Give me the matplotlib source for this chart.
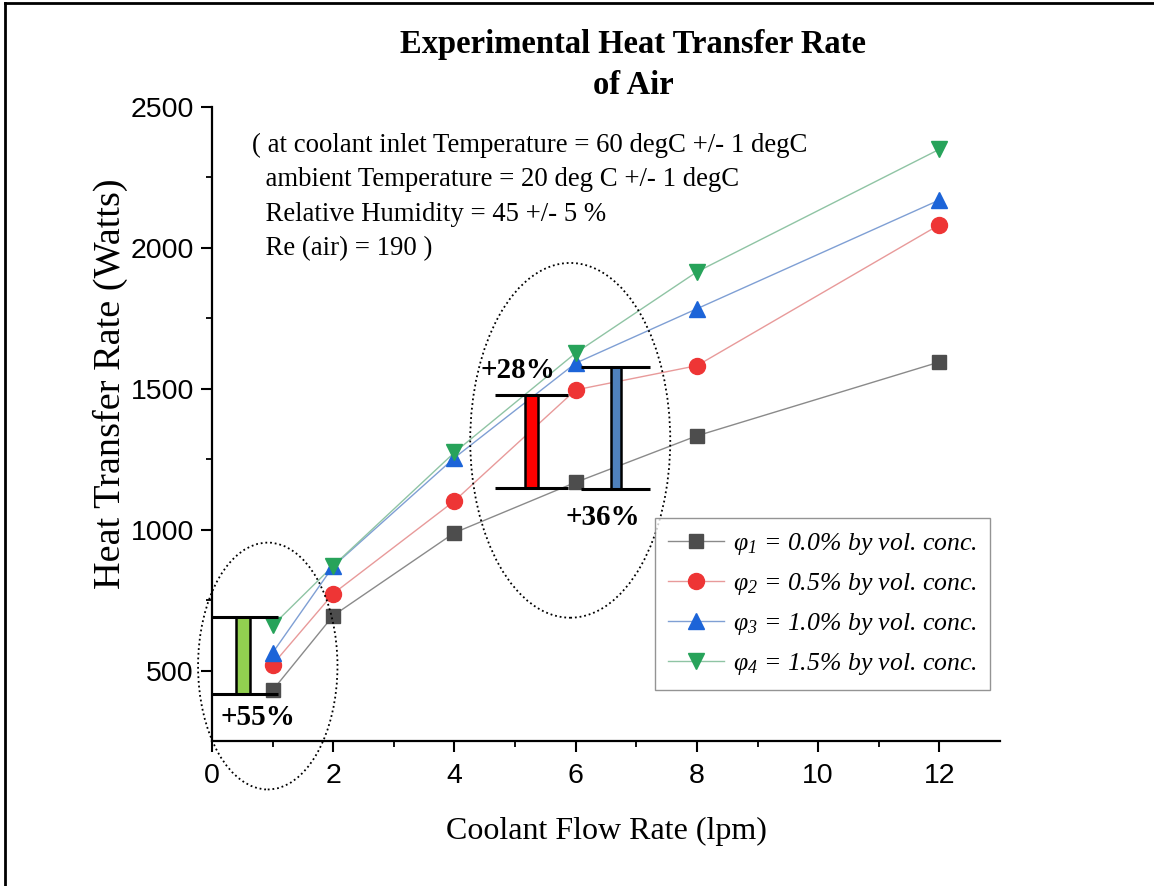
import matplotlib
matplotlib.use("Agg")
import matplotlib.pyplot as plt
from matplotlib.patches import Ellipse, Rectangle
from matplotlib.lines import Line2D

# ---- data -------------------------------------------------------------
flow_lpm = [1, 2, 4, 6, 8, 12]
q_phi1 = [430, 695, 989, 1168, 1333, 1595]
q_phi2 = [521, 773, 1102, 1496, 1582, 2082]
q_phi3 = [563, 870, 1255, 1591, 1784, 2170]
q_phi4 = [660, 872, 1274, 1627, 1915, 2350]

series_labels = [
    r"$\varphi_{\mathit{1}}$ = 0.0% by vol. conc.",
    r"$\varphi_{\mathit{2}}$ = 0.5% by vol. conc.",
    r"$\varphi_{\mathit{3}}$ = 1.0% by vol. conc.",
    r"$\varphi_{\mathit{4}}$ = 1.5% by vol. conc.",
]

# enhancement brackets: (label, bar centre x, bar width, low, high, line x0, line x1, colour)
brackets = [
    ("+55%", 0.515, 0.23, 417, 690, -0.02, 1.09, "#92d050"),
    ("+28%", 5.27, 0.20, 1148, 1479, 4.67, 5.87, "#ff0000"),
    ("+36%", 6.665, 0.15, 1144, 1577, 6.09, 7.23, "#4f81bd"),
]
bracket_label_pos = [(0.75, 333), (5.04, 1565), (6.44, 1043)]

x_ticks = [0, 2, 4, 6, 8, 10, 12]
y_ticks = [500, 1000, 1500, 2000, 2500]

# ---- style ------------------------------------------------------------
plt.rcParams["mathtext.fontset"] = "custom"
plt.rcParams["mathtext.it"] = "Liberation Serif:italic"
plt.rcParams["mathtext.rm"] = "Liberation Serif:italic"
SERIF = "Liberation Serif"
SANS = "Liberation Sans"

W, H = 1154, 886
fig = plt.figure(figsize=(W / 100, H / 100), dpi=100)
ax = fig.add_axes([212 / W, 1 - 741 / H, 788 / W, 634 / H])

styles = [
    dict(marker="s", color="#4d4d4d", ms=10),
    dict(marker="o", color="#ee3535", ms=11.5),
    dict(marker="^", color="#1c64d8", ms=12),
    dict(marker="v", color="#27a35a", ms=12),
]
series = [q_phi1, q_phi2, q_phi3, q_phi4]
line_colors = ["#8a8a8a", "#e89a9a", "#7f9fd4", "#8fc4a4"]

handles = []
for ys, st, lc, lab in zip(series, styles, line_colors, series_labels):
    ax.plot(flow_lpm, ys, color=lc, lw=1.0, zorder=3)
    ax.plot(flow_lpm, ys, ls="none", marker=st["marker"], ms=st["ms"],
            color=st["color"], mec=st["color"], zorder=4)
    handles.append(Line2D([], [], color=lc, lw=1.0, marker=st["marker"],
                          ms=st["ms"], mfc=st["color"], mec=st["color"],
                          label=lab))

ax.set_xlim(0, 13)
ax.set_ylim(250, 2500)
ax.set_xticks(x_ticks)
ax.set_yticks(y_ticks)
ax.set_xticks(range(1, 13, 2), minor=True)
ax.set_yticks([750, 1250, 1750, 2250], minor=True)
for s in ["top", "right"]:
    ax.spines[s].set_visible(False)
for s in ["left", "bottom"]:
    ax.spines[s].set_linewidth(1.6)
ax.tick_params(which="major", direction="out", length=8, width=1.5,
               labelsize=20.5)
ax.tick_params(axis="x", which="major", pad=8)
ax.tick_params(axis="y", which="major", pad=5)
ax.tick_params(which="minor", direction="out", length=4.5, width=1.3)
for lbl in ax.get_xticklabels() + ax.get_yticklabels():
    lbl.set_fontfamily(SANS)

ax.set_xlabel("Coolant Flow Rate (lpm)", family=SERIF, fontsize=23, labelpad=20)
fig.text(110 / W, 1 - 384 / H, "Heat Transfer Rate (Watts)", rotation=90,
         ha="center", va="center", family=SERIF, fontsize=27.5)

fig.text(633 / W, 1 - 65 / H, "Experimental Heat Transfer Rate\nof Air",
         ha="center", va="center", family=SERIF, weight="bold", fontsize=23.5,
         linespacing=1.4)

fig.text(252 / W, 1 - 133 / H,
         "( at coolant inlet Temperature = 60 degC +/- 1 degC\n"
         "  ambient Temperature = 20 deg C +/- 1 degC\n"
         "  Relative Humidity = 45 +/- 5 %\n"
         "  Re (air) = 190 )",
         family=SERIF, fontsize=19.3, va="top", ha="left", linespacing=1.49)

# dotted ellipses around the highlighted regions
for cx, cy, w, h in [(0.92, 516, 2.30, 876), (5.91, 1317, 3.30, 1259)]:
    ax.add_patch(Ellipse((cx, cy), w, h, fill=False, ec="black", lw=1.3,
                         ls=(0, (1, 1.6)), clip_on=False, zorder=5))

# enhancement brackets
for (lab, bx, bw, lo, hi, lx0, lx1, col), (tx, ty) in zip(brackets, bracket_label_pos):
    ax.add_patch(Rectangle((bx - bw / 2, lo), bw, hi - lo, fc=col, ec="black",
                           lw=1.8, zorder=6, clip_on=False))
    ax.plot([lx0, lx1], [lo, lo], color="black", lw=2.2, zorder=6, clip_on=False,
            solid_capstyle="butt")
    ax.plot([lx0, lx1], [hi, hi], color="black", lw=2.2, zorder=6, clip_on=False,
            solid_capstyle="butt")
    ax.text(tx, ty, lab, ha="center", va="center", family=SERIF, weight="bold",
            fontsize=21, zorder=7)

leg = ax.legend(handles=handles, loc="upper left",
                bbox_to_anchor=(655 / W, 1 - 518 / H),
                bbox_transform=fig.transFigure, borderaxespad=0,
                prop=dict(family=SERIF, style="italic", size=18.5),
                frameon=True, fancybox=False, edgecolor="#7a7a7a",
                handlelength=2.2, handletextpad=0.35, labelspacing=0.55,
                borderpad=0.5)
leg.get_frame().set_linewidth(1.0)

# page border (top and left edges)
fig.add_artist(Line2D([5 / W, 5 / W], [0, 1 - 3 / H], color="black",
                      lw=2, transform=fig.transFigure))
fig.add_artist(Line2D([5 / W, 1], [1 - 3 / H, 1 - 3 / H], color="black",
                      lw=2, transform=fig.transFigure))

fig.savefig("out.png", dpi=100)
